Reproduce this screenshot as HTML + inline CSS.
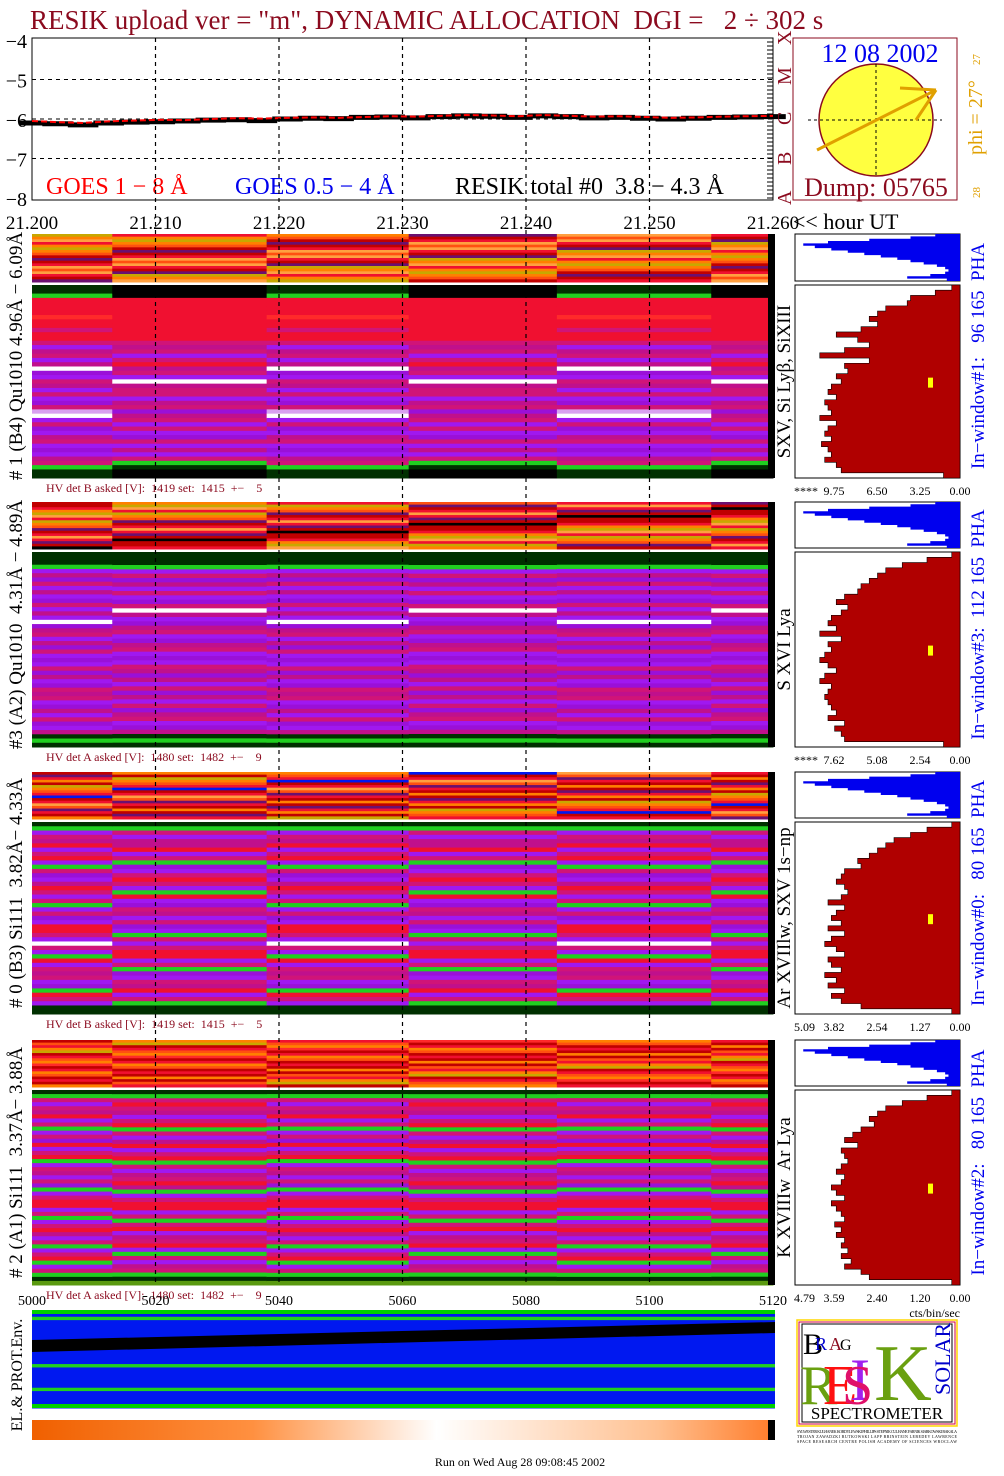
<!DOCTYPE html>
<html><head><meta charset="utf-8"><style>
body{margin:0;background:#fff;width:1004px;height:1476px;overflow:hidden}
svg{display:block;font-family:"Liberation Serif",serif}
text{white-space:pre}
</style></head><body>
<svg id="s" width="1004" height="1476" viewBox="0 0 1004 1476" xmlns="http://www.w3.org/2000/svg">
<text x="30" y="29" font-size="27" fill="#8b0a1e">RESIK upload ver = "m", DYNAMIC ALLOCATION  DGI =   2 ÷ 302 s</text>
<g id="topplot"></g>
<g id="sun">
<rect x="793" y="38" width="164" height="162" fill="#fff" stroke="#8b0a1e"/>
<ellipse cx="876" cy="120" rx="57" ry="56" fill="#ffff40" stroke="#8b0a1e" stroke-width="1.5"/>
<line x1="808" y1="120" x2="942" y2="120" stroke="#000" stroke-dasharray="3,3"/>
<line x1="876" y1="64" x2="876" y2="176" stroke="#000" stroke-dasharray="3,3"/>
<line x1="817" y1="150" x2="936" y2="90" stroke="#e0a000" stroke-width="3"/>
<line x1="900" y1="88" x2="936" y2="90" stroke="#e0a000" stroke-width="3"/>
<line x1="916" y1="120" x2="936" y2="90" stroke="#e0a000" stroke-width="3"/>
<text x="880" y="62" font-size="26" fill="#0000ee" text-anchor="middle">12 08 2002</text>
<text x="876" y="196" font-size="26" fill="#8b0a1e" text-anchor="middle">Dump: 05765</text>
<text transform="translate(982,155) rotate(-90)" font-size="20" fill="#e0a000">phi = 27°</text>
<text transform="translate(980,65) rotate(-90)" font-size="11" fill="#e0a000">27</text>
<text transform="translate(980,198) rotate(-90)" font-size="11" fill="#e0a000">28</text>
</g>
<g id="panels"></g>
<g id="bottom"></g>
<g id="logo">
<rect x="797" y="1320" width="160" height="106" fill="#fff" stroke="#ffd700" stroke-width="1.5"/>
<rect x="799" y="1322" width="156" height="102" fill="#fff" stroke="#d00040"/>
<rect x="802" y="1324" width="150" height="98" fill="#fff" stroke="#000"/>
<text x="803" y="1354" font-size="30" fill="#000">B</text><text x="815" y="1350" font-size="18" fill="#00c">R</text><text x="829" y="1350" font-size="18" fill="#8b0a1e">A</text><text x="840" y="1350" font-size="16" fill="#000">G</text>
<text x="800" y="1404" font-size="56" fill="#6aa010">R</text><text x="823" y="1404" font-size="56" fill="#ff1010">E</text>
<text x="850" y="1400" font-size="60" fill="#a020f0">I</text><text x="842" y="1404" font-size="56" fill="#e0106a">S</text>
<text x="874" y="1400" font-size="80" fill="#6aa010">K</text>
<text transform="translate(950,1395) rotate(-90)" font-size="22" fill="#0000cc">SOLAR</text>
<text x="877" y="1419" font-size="17" fill="#000" text-anchor="middle">SPECTROMETER</text>
<text x="797" y="1433" font-size="4" fill="#000" textLength="160">SYLWESTER KULHANEK KORDYLEWSKI PHILLIPS STEPNIK CULHANE FARNIK SIARKOWSKI BAKALA</text>
<text x="797" y="1438" font-size="4" fill="#000" textLength="160">TROJAN ZAWADZKI RUTKOWSKI LAPP BRINSTEIN LEBEDEV LAWRENCE</text>
<text x="797" y="1443" font-size="4" fill="#000" textLength="160">SPACE RESEARCH CENTRE POLISH ACADEMY OF SCIENCES WROCLAW</text>
</g>
<text x="520" y="1466" font-size="12" text-anchor="middle" fill="#000">Run on Wed Aug 28 09:08:45 2002</text>
</svg>
<script>
// ---- data ----
const goesLong=[-6.05,-6.08,-6.1,-6.06,-6.04,-6.02,-6.03,-6.0,-5.98,-5.99,-5.97,-5.96,-5.97,-5.95,-5.93,-5.94,-5.92,-5.9,-5.91,-5.93,-5.9,-5.92,-5.94,-5.93,-5.95,-5.97,-5.96,-5.94,-5.93,-5.92];
const resikTotal=[-6.1,-6.12,-6.15,-6.1,-6.08,-6.07,-6.05,-6.03,-6.02,-6.04,-6.0,-5.98,-5.99,-5.96,-5.95,-5.97,-5.94,-5.92,-5.93,-5.96,-5.92,-5.94,-5.97,-5.96,-5.98,-6.0,-5.98,-5.96,-5.95,-5.94];
const timeTicks=["21.200","21.210","21.220","21.230","21.240","21.250","21.260"];
const yTicks=[-4,-5,-6,-7,-8];
const binTicks=["5000","5020","5040","5060","5080","5100","5120"];
const segEdges=[5000,5013,5038,5061,5085,5110,5120];
const palette={r:"#f01030",R:"#ff2a2a",m:"#d01478",n:"#c0108c",p:"#a018f0",v:"#9a10d8",w:"#ffffff",l:"#d8a0f0",g:"#20d020",G:"#5a9a10",k:"#003000",K:"#000000",o:"#ff8000",O:"#ffa040",y:"#c8a800",d:"#c00000",b:"#6a1070",B:"#0018f0",e:"#ff5010"};
const strip1="yoOroyoedbdrOeOrdb";
const main1a="kkgrrrrRrrmrrmpnmpnwvpmnpmpvmlwpmvpnmpvpnmgkk";
const main1b="KKKrrrrrrrrrrmnmpmrnmpwnmmpnmvnmpmpvmpnpmgkKK";
const strip2="ddroyOryoebdrOrbdK";
const main2a="kkkgpnvmpnpvmpnpwvnmpnvmpvpmvnpvmnmpvnpmvpnkgk";
const main2b="kkkgpmvnpmpvmwnpvnmpvnmpvpmnvnpmvnpmvnmpvnkgk";
const strip3="dbrodyoerBdrOebrdo";
const main3a="kgpmnrpmrpgmvpnrmpmgpmvprrmpwmpgrpmnmpvgrmpkk";
const main3b="kgmpnnrpmgvpmrmpgrpvmnpmvpgmpmrrpmgvpmnrpmgkk";
const strip4="deroydreoRdroedrdo";
const main4a="kgmpmnrpmgpmvrpmrgpmnpmvgpmrrpmgpmrnpmgpmrgpmgkG";
const main4b="kgmrmnpmrgmpnrpmrgmpnmrngpmrrpmgmrpnmrpgmpnmgkG";
const phaA=[0.15,0.3,0.55,0.8,0.95,0.88,0.78,0.68,0.58,0.48,0.38,0.3,0.22,0.14,0.09,0.07,0.09,0.18,0.32,0.08];
const hist1=[0.05,0.15,0.3,0.32,0.45,0.5,0.55,0.5,0.6,0.75,0.62,0.55,0.7,0.85,0.55,0.7,0.68,0.75,0.72,0.78,0.8,0.75,0.82,0.8,0.78,0.85,0.75,0.8,0.82,0.78,0.84,0.8,0.78,0.82,0.75,0.72,0.1];
const hist2=[0.05,0.2,0.35,0.45,0.5,0.55,0.6,0.62,0.7,0.75,0.68,0.72,0.78,0.8,0.75,0.85,0.72,0.8,0.78,0.82,0.85,0.8,0.75,0.82,0.85,0.78,0.8,0.82,0.8,0.78,0.75,0.8,0.7,0.76,0.72,0.7,0.1];
const hist3=[0.05,0.2,0.3,0.4,0.45,0.5,0.55,0.62,0.6,0.7,0.72,0.75,0.7,0.68,0.72,0.8,0.7,0.75,0.78,0.72,0.8,0.7,0.78,0.82,0.75,0.7,0.8,0.78,0.72,0.82,0.75,0.8,0.7,0.78,0.72,0.6,0.05];
const hist4=[0.05,0.2,0.35,0.45,0.5,0.55,0.52,0.6,0.65,0.7,0.62,0.72,0.7,0.68,0.72,0.75,0.7,0.72,0.78,0.75,0.7,0.78,0.75,0.72,0.7,0.76,0.72,0.75,0.7,0.72,0.68,0.72,0.66,0.7,0.6,0.55,0.05];
const panelLabels=["# 1 (B4) Qu1010 4.96Å − 6.09Å","#3 (A2) Qu1010  4.31Å − 4.89Å","# 0 (B3) Si111  3.82Å− 4.33Å","# 2 (A1) Si111  3.37Å− 3.88Å"];
const lineLabels=["SXV, Si Lyβ, SiXIII","S XVI Lya","Ar XVIIlw, SXV 1s−np","K XVIIIw  Ar Lya"];
const winLabels=["In−window#1:   96 165  PHA","In−window#3:  112 165  PHA","In−window#0:   80 165  PHA","In−window#2:   80 165  PHA"];
const hvLabels=["HV det B asked [V]:  1419 set:  1415  +−    5","HV det A asked [V]:  1480 set:  1482  +−    9","HV det B asked [V]:  1419 set:  1415  +−    5","HV det A asked [V]:  1480 set:  1482  +−    9"];
const histTicks=[["****","9.75","6.50","3.25","0.00"],["****","7.62","5.08","2.54","0.00"],["5.09","3.82","2.54","1.27","0.00"],["4.79","3.59","2.40","1.20","0.00"]];
const envRows="BBgBBBBBBBBBBBBBgBBBBBBgBBBBB";
// ---- helpers ----
const NS="http://www.w3.org/2000/svg";
function mk(tag,at,par){const e=document.createElementNS(NS,tag);for(const k in at)e.setAttribute(k,at[k]);par.appendChild(e);return e;}
function txt(par,x,y,s,size,fill,anchor,rot){const t=mk("text",{x:x,y:y,"font-size":size,fill:fill,"text-anchor":anchor||"start"},par);if(rot){t.setAttribute("transform",`rotate(-90 ${x} ${y})`);}t.textContent=s;return t;}
const X0=32,X1=773;
const xT=i=>X0+(X1-X0)*i/(goesLong.length-1);
const yV=v=>40+(-4-v)*39.5;
const xB=b=>X0+(b-5000)/120*(X1-X0);
const svgRoot=document.getElementById("s");
// ---- top plot ----
const topG=document.getElementById("topplot");
mk("rect",{x:X0,y:38,width:X1-X0,height:162,fill:"#fff",stroke:"#000"},topG);
yTicks.forEach(v=>{const t=txt(topG,27,yV(v)+8,"−"+(-v),20,"#000","end");
 
 
 if(v>-8&&v<-4)mk("line",{x1:X0,x2:X1,y1:yV(v),y2:yV(v),stroke:"#000","stroke-dasharray":"4,4"},topG);});
let p1="",p2="";goesLong.forEach((v,i)=>{p1+=(i?"L":"M")+xT(i)+","+yV(v);});
resikTotal.forEach((v,i)=>{const x=xT(i),w=(X1-X0)/(resikTotal.length-1);p2+=(i?"L":"M")+(x-w/2)+","+yV(v)+"L"+(x+w/2)+","+yV(v);});
const lr=mk("path",{d:p2,fill:"none",stroke:"#000","stroke-width":5},topG);


const lg=mk("path",{d:p1,fill:"none",stroke:"#f00","stroke-width":2,"stroke-dasharray":"6,3"},topG);


txt(topG,46,194,"GOES 1 − 8 Å",24,"#f00");txt(topG,235,194,"GOES 0.5 − 4 Å",24,"#0000ee");txt(topG,455,194,"RESIK total #0  3.8 − 4.3 Å",24,"#000");
["A","B","C","M","X"].forEach((c,i)=>txt(topG,791,205-i*40,c,20,"#8b0a1e","start",true));
for(let y=42;y<200;y+=4)mk("line",{x1:X1-6,x2:X1,y1:y,y2:y,stroke:"#000"},topG);
timeTicks.forEach((t,i)=>{const e=txt(topG,X0+(X1-X0)*i/6,229,t,19,"#000","middle");
 
 });
txt(topG,793,229,"<< hour UT",22,"#000");
// ---- panels ----
const P=[{s:234,m:285,e:478,strip:strip1,a:main1a,b:main1b,h:hist1},{s:502,m:552,e:747,strip:strip2,a:main2a,b:main2b,h:hist2},{s:772,m:822,e:1014,strip:strip3,a:main3a,b:main3b,h:hist3},{s:1040,m:1090,e:1285,strip:strip4,a:main4a,b:main4b,h:hist4}];
const pg=document.getElementById("panels");
P.forEach((p,k)=>{
 const g=mk("g",{},pg);
 
 
 const sh=(p.m-3-p.s)/p.strip.length;
 for(let si=0;si<segEdges.length-1;si++){
  const x=xB(segEdges[si]),w=xB(segEdges[si+1])-x;
  for(let r=0;r<p.strip.length;r++){const c=p.strip[(r+si*3)%p.strip.length];
   const e=mk("rect",{x:x,y:p.s+r*sh,width:w+0.5,height:sh+0.5,fill:palette[c]},g);
   
   }
  const rows=si%2?p.b:p.a, rh=(p.e-p.m)/rows.length;
  for(let r=0;r<rows.length;r++){const e=mk("rect",{x:x,y:p.m+r*rh,width:w+0.5,height:rh+0.5,fill:palette[rows[r]]},g);
   
   }
 }
 mk("rect",{x:768,y:p.s,width:7,height:p.e-p.s,fill:"#000"},g);
 txt(g,22,(p.s+p.e)/2,panelLabels[k],19,"#000","middle",true);
 txt(g,790,(p.m+p.e)/2,lineLabels[k],19,"#000","middle",true);
 txt(g,984,(p.s+p.e)/2,winLabels[k],19,"#0000ee","middle",true);
 txt(g,46,p.e+14,hvLabels[k],12,"#8b0a1e");
 mk("rect",{x:795,y:p.s,width:165,height:p.m-p.s-4,fill:"#fff",stroke:"#000"},g);
 const ph=p.m-p.s-4,pw=ph/phaA.length;let d=`M960,${p.s}`;
 phaA.forEach((v,i)=>{const xx=960-v*165;d+=`L${xx},${p.s+i*pw}L${xx},${p.s+(i+1)*pw}`;});
 d+=`L960,${p.s+ph}Z`;
 const pe=mk("path",{d:d,fill:"#0000ee"},g);
 
 
 mk("rect",{x:795,y:p.m,width:165,height:p.e-p.m,fill:"#fff",stroke:"#000"},g);
 const hh=(p.e-p.m)/p.h.length;let hd=`M960,${p.m}`;
 p.h.forEach((v,i)=>{const xx=960-v*165;hd+=`L${xx},${p.m+i*hh}L${xx},${p.m+(i+1)*hh}`;});
 hd+=`L960,${p.e}Z`;
 const he=mk("path",{d:hd,fill:"#b00000",stroke:"#000","stroke-width":0.6},g);
 
 
 mk("rect",{x:928,y:p.m+(p.e-p.m)*0.48,width:5,height:10,fill:"#ffff00"},g);
 histTicks[k].forEach((t,i)=>txt(g,[794,834,877,920,960][i],p.e+17,t,12,"#000",i==0?"start":"middle"));
});
for(let i=1;i<6;i++){const x=X0+(X1-X0)*i/6;mk("line",{x1:x,x2:x,y1:38,y2:1285,stroke:"#000","stroke-dasharray":"4,4","stroke-width":1.2},pg);}
txt(pg,960,1317,"cts/bin/sec",12,"#000","end");
binTicks.forEach((t,i)=>{const e=txt(pg,xB(+t),1305,t,14,"#000","middle");
 
 });
// ---- bottom env ----
const bt=document.getElementById("bottom");
const eh=98/envRows.length;
for(let r=0;r<envRows.length;r++){const e=mk("rect",{x:32,y:1310+r*eh,width:743,height:eh+0.5,fill:palette[envRows[r]]},bt);
 
 }
mk("polygon",{points:"32,1340 775,1322 775,1333 32,1352",fill:"#000"},bt);
mk("rect",{x:32,y:1310,width:743,height:4,fill:"#00d000"},bt);
mk("rect",{x:32,y:1404,width:743,height:4,fill:"#00d000"},bt);
const defs=mk("defs",{},svgRoot);
const gr=mk("linearGradient",{id:"og"},defs);
[["0","#f06000"],["0.3","#ff9040"],["0.55","#ffffff"],["0.85","#ffc090"],["1","#ff8030"]].forEach(s=>mk("stop",{offset:s[0],"stop-color":s[1]},gr));
mk("rect",{x:32,y:1420,width:736,height:20,fill:"url(#og)"},bt);
mk("rect",{x:768,y:1420,width:7,height:20,fill:"#000"},bt);
txt(bt,22,1375,"EL.& PROT.Env.",16,"#000","middle",true);
</script>
</body></html>
